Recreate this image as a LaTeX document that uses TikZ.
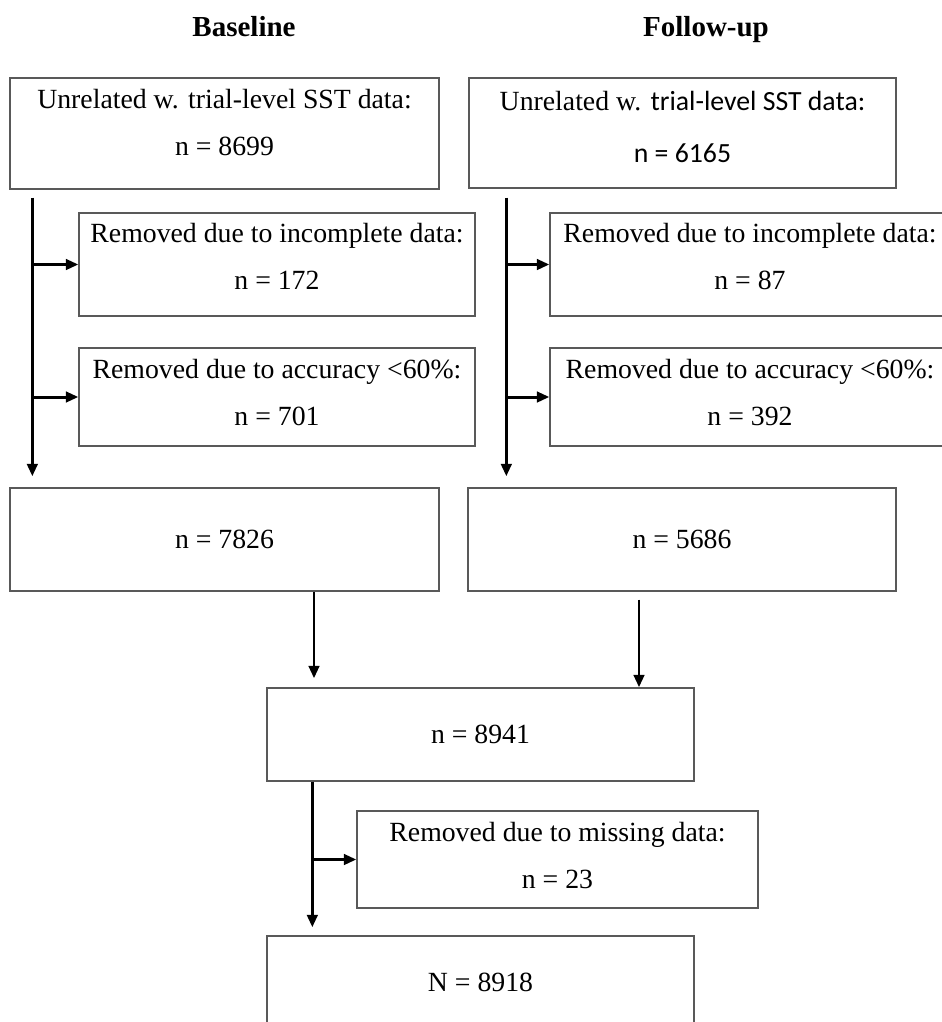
\documentclass[tikz,border=0pt]{standalone}
\usepackage{fontspec}
\setmainfont{Liberation Serif}
\newfontfamily\calibrisub{Carlito}
\usetikzlibrary{arrows.meta}
\usetikzlibrary{calc}

\tikzset{
  flowbox/.style={
    rectangle,
    draw=black!65,
    line width=0.8pt,
    align=center,
    inner sep=0pt,
    font=\fontsize{15.8}{26.7}\selectfont,
  },
  twoline/.style={text height=1.32cm, text depth=#1},
  flowtitle/.style={anchor=base, font=\fontsize{16.5}{20}\selectfont\bfseries},
  flowarrow/.style={
    line width=1.7pt,
    -{Triangle[length=0.25cm,width=0.21cm]},
  },
}

\begin{document}
\begin{tikzpicture}[x=0.02cm, y=-0.02cm]
  \fill[white] (0, 0) rectangle (942, 1022);
  \useasboundingbox (0, 0) rectangle (942, 1022);

  \node[flowtitle] (titleA) at (244, 36) {Baseline};
  \node[flowtitle] (titleB) at (706, 36) {Follow-up};

  % Baseline column
  \node[flowbox, twoline=0.46cm, minimum width=8.58cm, minimum height=2.22cm]
    (unrelA) at (224.5, 133.5) {Unrelated w. trial-level SST data:\\ n = 8699};
  \node[flowbox, twoline=0.34cm, minimum width=7.92cm, minimum height=2.06cm]
    (incA) at (277, 264.5) {Removed due to incomplete data:\\ n = 172};
  \node[flowbox, twoline=0.20cm, minimum width=7.92cm, minimum height=1.96cm]
    (accA) at (277, 397) {Removed due to accuracy <60\%:\\ n = 701};
  \node[flowbox, minimum width=8.58cm, minimum height=2.06cm]
    (keptA) at (224.5, 539.5) {n = 7826};

  % Follow-up column
  \node[flowbox, text height=1.42cm, text depth=0.26cm, minimum width=8.54cm, minimum height=2.20cm,
    font=\fontsize{15.8}{29.5}\selectfont]
    (unrelB) at (682.5, 133) {Unrelated w. {\calibrisub trial-level SST data:}\\ {\calibrisub n = 6165}};
  \node[flowbox, twoline=0.34cm, minimum width=8.00cm, minimum height=2.06cm]
    (incB) at (750, 264.5) {Removed due to incomplete data:\\ n = 87};
  \node[flowbox, twoline=0.20cm, minimum width=8.00cm, minimum height=1.96cm]
    (accB) at (750, 397) {Removed due to accuracy <60\%:\\ n = 392};
  \node[flowbox, minimum width=8.56cm, minimum height=2.06cm]
    (keptB) at (682, 539.5) {n = 5686};

  % Pooled sample
  \node[flowbox, minimum width=8.54cm, minimum height=1.86cm]
    (pooled) at (480.5, 734.5) {n = 8941};
  \node[flowbox, twoline=0.18cm, minimum width=8.02cm, minimum height=1.94cm]
    (missing) at (557.5, 859.5) {Removed due to missing data:\\ n = 23};
  \node[flowbox, minimum width=8.54cm, minimum height=1.84cm]
    (final) at (480.5, 982) {N = 8918};

  \coordinate (trunkA) at ($(unrelA.south west)+(23, 8)$);
  \coordinate (trunkAend) at ($(keptA.north west)+(23, -11)$);
  \coordinate (trunkB) at ($(unrelB.south west)+(38, 9)$);
  \coordinate (trunkBend) at ($(keptB.north west)+(39, -11)$);
  \coordinate (mergeA) at ($(keptA.south)+(89.5, 0)$);
  \coordinate (mergeB) at ($(keptB.south)+(-43, 8)$);
  \coordinate (trunkC) at ($(pooled.south west)+(46, 0)$);

  \draw[flowarrow] (trunkA) -- (trunkAend);
  \draw[flowarrow] (trunkA |- incA.west) -- (incA.west);
  \draw[flowarrow] (trunkA |- accA.west) -- (accA.west);

  \draw[flowarrow] (trunkB) -- (trunkBend);
  \draw[flowarrow] (trunkB |- incB.west) -- (incB.west);
  \draw[flowarrow] (trunkB |- accB.west) -- (accB.west);

  \draw[flowarrow, shorten >=0.18cm] (mergeA) -- (mergeA |- pooled.north);
  \draw[flowarrow] (mergeB) -- (mergeB |- pooled.north);

  \draw[flowarrow, shorten >=0.16cm] (trunkC) -- (trunkC |- final.north);
  \draw[flowarrow] (trunkC |- missing.west) -- (missing.west);
\end{tikzpicture}
\end{document}
